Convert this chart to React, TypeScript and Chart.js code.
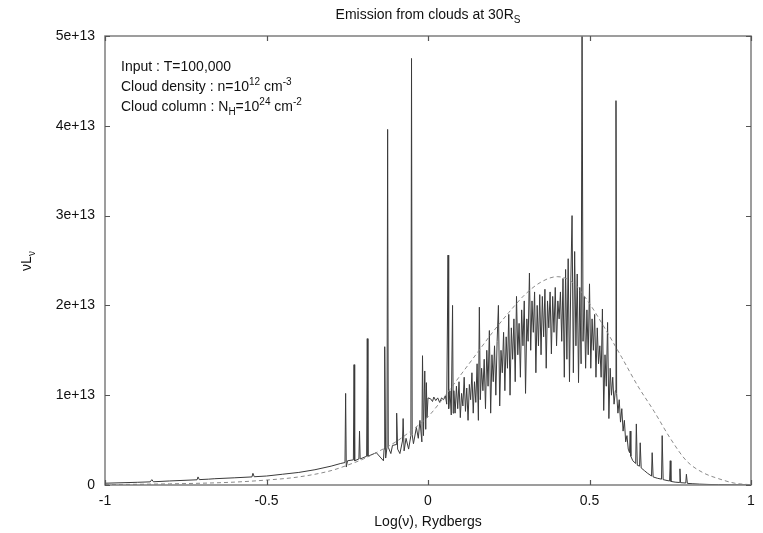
import React, { useEffect, useRef } from 'react';
import { Chart, registerables } from 'chart.js';

Chart.register(...registerables);

const FONT = '"Liberation Sans", Arial, Helvetica, sans-serif';

// Tick values
const xTickValues = [-1, -0.5, 0, 0.5, 1];
const yTickValues = [0, 1, 2, 3, 4, 5]; // units of 1e13

// Emission spectrum (solid) : x = log(nu) [Ryd], y = nuL_nu in 1e13
const solidX = [
  -1.0, -0.9, -0.86, -0.855, -0.85, -0.8, -0.715, -0.712, -0.708, -0.68, -0.66, -0.6,
  -0.545, -0.542, -0.538, -0.5, -0.45, -0.4, -0.35, -0.3, -0.27, -0.257, -0.255, -0.253,
  -0.249, -0.231, -0.229, -0.227, -0.214, -0.212, -0.21, -0.19, -0.188, -0.186, -0.16,
  -0.138, -0.136, -0.134, -0.131, -0.127, -0.125, -0.123, -0.115, -0.11, -0.099, -0.097,
  -0.094, -0.087, -0.079, -0.077, -0.074, -0.068, -0.06, -0.053, -0.051, -0.049, -0.045,
  -0.036, -0.03, -0.025, -0.019, -0.017, -0.014, -0.01, -0.007, -0.005, -0.003,
  0.0, 0.002, 0.008, 0.014, 0.018, 0.024, 0.03, 0.036, 0.042, 0.048, 0.054, 0.058,
  0.062, 0.064, 0.068, 0.072, 0.076, 0.078,
  0.08, 0.084, 0.088, 0.092, 0.096, 0.1, 0.104, 0.108, 0.112, 0.116, 0.12, 0.124, 0.128,
  0.132, 0.136, 0.14, 0.144, 0.148, 0.152, 0.156, 0.159, 0.162, 0.166, 0.17, 0.174, 0.178,
  0.182, 0.186, 0.19, 0.194, 0.198, 0.202, 0.206, 0.21, 0.214, 0.218, 0.222, 0.226, 0.23,
  0.234, 0.238, 0.242, 0.246, 0.25, 0.254, 0.258, 0.262, 0.266, 0.27, 0.274, 0.278, 0.282,
  0.286, 0.29, 0.294, 0.298, 0.302, 0.306, 0.31, 0.314, 0.318, 0.322, 0.326, 0.33, 0.334,
  0.338, 0.342, 0.346, 0.35, 0.354, 0.358, 0.362, 0.366, 0.37, 0.374, 0.378, 0.382, 0.386,
  0.39, 0.394, 0.398, 0.402, 0.406, 0.41, 0.414, 0.418, 0.422, 0.426, 0.43, 0.434, 0.438,
  0.442, 0.446, 0.45, 0.454, 0.458, 0.462, 0.466, 0.47, 0.474, 0.477, 0.48, 0.484, 0.488,
  0.492, 0.496, 0.5, 0.504, 0.508, 0.512, 0.516, 0.52, 0.524, 0.528, 0.532, 0.536, 0.54,
  0.544, 0.548, 0.552, 0.556, 0.56, 0.564, 0.568, 0.572, 0.576, 0.58, 0.582, 0.584, 0.588,
  0.592, 0.596, 0.6, 0.604, 0.608, 0.612, 0.616, 0.62, 0.624, 0.626, 0.628, 0.634, 0.643,
  0.645, 0.648, 0.655, 0.657, 0.66, 0.67, 0.68, 0.692, 0.694, 0.697, 0.71, 0.723, 0.725,
  0.728, 0.74, 0.748, 0.75, 0.752, 0.765, 0.778, 0.78, 0.782, 0.798, 0.8, 0.803, 0.82,
  0.84, 0.87, 0.9, 0.95, 1.0,
];
const solidY = [
  0.02, 0.03, 0.035, 0.06, 0.036, 0.045, 0.058, 0.09, 0.06, 0.065, 0.07, 0.08,
  0.09, 0.13, 0.092, 0.1, 0.12, 0.14, 0.17, 0.21, 0.24, 0.25, 1.02, 0.2,
  0.27, 0.28, 1.34, 0.27, 0.29, 0.6, 0.29, 0.32, 1.63, 0.32, 0.36,
  0.27, 0.4, 1.54, 0.3, 0.42, 3.96, 0.42, 0.35, 0.44, 0.45, 0.8,
  0.4, 0.35, 0.49, 0.74, 0.38, 0.52, 0.4, 0.55, 4.75, 0.56, 0.46,
  0.64, 0.52, 0.72, 0.48, 1.44, 0.55, 1.27, 0.62, 1.14, 0.75,
  0.97, 0.97, 0.96, 0.93, 0.98, 0.94, 0.97, 0.92, 0.97, 0.95, 0.99, 0.9,
  2.56, 0.85, 1.05, 0.78, 2.0, 0.8,
  1.05, 0.8, 1.1, 0.85, 1.15, 0.75, 1.02, 0.88, 1.2, 0.82, 1.08, 0.72, 1.12,
  0.95, 1.25, 0.8, 1.15, 0.92, 1.35, 0.72, 1.98, 0.95, 1.3, 1.05, 1.4, 0.85,
  1.5, 1.1, 1.72, 0.8, 1.45, 1.15, 1.55, 1.0, 1.6, 2.0, 0.88, 1.5, 1.25,
  1.7, 1.05, 1.65, 1.3, 1.9, 1.0, 1.75, 1.4, 1.85, 1.15, 2.1, 1.45, 1.8,
  1.2, 1.95, 1.55, 2.05, 1.02, 1.85, 1.6, 2.36, 1.5, 2.05, 1.7, 2.15, 1.25,
  2.0, 1.55, 2.12, 1.45, 2.1, 1.65, 2.18, 1.3, 2.05, 1.75, 2.15, 1.46, 2.1,
  1.7, 2.2, 1.55, 2.05, 1.85, 2.15, 1.6, 2.3, 1.2, 2.4, 1.4, 2.52, 1.15,
  2.25, 3.0, 1.25, 2.6, 1.55, 2.35, 1.14, 2.2, 1.35, 5.2, 1.6, 2.1, 1.3,
  1.95, 1.45, 2.24, 1.3, 1.85, 1.5, 1.9, 1.2, 1.75, 1.35, 1.55, 1.2, 1.96,
  0.83, 1.45, 1.1, 1.81, 0.74, 1.3, 1.0, 1.2, 0.9, 1.05, 4.28, 1.02, 0.8,
  0.95, 0.7, 0.85, 0.6, 0.72, 0.48, 0.55, 0.4, 0.36, 0.6, 0.32, 0.27, 0.24,
  0.68, 0.22, 0.21, 0.47, 0.19, 0.16, 0.13, 0.1, 0.36, 0.09, 0.075, 0.065, 0.55,
  0.06, 0.05, 0.045, 0.27, 0.04, 0.032, 0.028, 0.18, 0.026, 0.022, 0.12, 0.018, 0.014,
  0.01, 0.006, 0.004, 0.002, 0.0,
];

// Model continuum (dashed)
const dashX = [
  -1, -0.9, -0.8, -0.7, -0.6, -0.5, -0.4, -0.3, -0.25, -0.2, -0.15, -0.1, -0.05, 0,
  0.05, 0.1, 0.15, 0.2, 0.25, 0.3, 0.35, 0.4, 0.45, 0.5, 0.55, 0.6, 0.65, 0.7, 0.75,
  0.8, 0.85, 0.9, 0.95, 1.0,
];
const dashY = [
  0.005, 0.008, 0.013, 0.02, 0.032, 0.055, 0.09, 0.16, 0.22, 0.29, 0.38, 0.48, 0.61, 0.76,
  0.98, 1.22, 1.46, 1.7, 1.92, 2.12, 2.26, 2.32, 2.25, 2.02, 1.73, 1.42, 1.1, 0.82, 0.52,
  0.27, 0.14, 0.07, 0.02, 0.003,
];

type Part = { t: string; s?: 'sup' | 'sub' };

const titleParts: Part[] = [{ t: 'Emission from clouds at 30R' }, { t: 'S', s: 'sub' }];
const xLabelParts: Part[] = [{ t: 'Log(ν), Rydbergs' }];
const yLabelParts: Part[] = [{ t: 'νL' }, { t: 'ν', s: 'sub' }];
const noteLines: Part[][] = [
  [{ t: 'Input : T=100,000' }],
  [{ t: 'Cloud density : n=10' }, { t: '12', s: 'sup' }, { t: ' cm' }, { t: '-3', s: 'sup' }],
  [{ t: 'Cloud column : N' }, { t: 'H', s: 'sub' }, { t: '=10' }, { t: '24', s: 'sup' }, { t: ' cm' }, { t: '-2', s: 'sup' }],
];

function drawRich(ctx: CanvasRenderingContext2D, parts: Part[], x: number, y: number, size: number, align: 'left' | 'center') {
  const small = Math.round(size * 0.72);
  const widths = parts.map((p) => {
    ctx.font = `${p.s ? small : size}px ${FONT}`;
    return ctx.measureText(p.t).width;
  });
  const total = widths.reduce((a, b) => a + b, 0);
  let cx = align === 'center' ? x - total / 2 : x;
  ctx.textAlign = 'left';
  ctx.textBaseline = 'alphabetic';
  parts.forEach((p, i) => {
    ctx.font = `${p.s ? small : size}px ${FONT}`;
    const dy = p.s === 'sup' ? -size * 0.42 : p.s === 'sub' ? size * 0.3 : 0;
    ctx.fillText(p.t, cx, y + dy);
    cx += widths[i];
  });
}

const gnuplotFrame = {
  id: 'gnuplotFrame',
  afterDatasetsDraw(chart: any) {
    const { ctx, chartArea: a, scales } = chart;
    ctx.save();
    ctx.strokeStyle = '#7d7d7d';
    ctx.lineWidth = 1.5;
    ctx.strokeRect(a.left, a.top, a.right - a.left, a.bottom - a.top);
    ctx.lineWidth = 1.2;
    ctx.strokeStyle = '#555';
    const tl = 5;
    ctx.beginPath();
    xTickValues.forEach((v) => {
      const px = Math.round(scales.x.getPixelForValue(v)) + 0.5;
      ctx.moveTo(px, a.bottom);
      ctx.lineTo(px, a.bottom - tl);
      ctx.moveTo(px, a.top);
      ctx.lineTo(px, a.top + tl);
    });
    yTickValues.forEach((v) => {
      const py = Math.round(scales.y.getPixelForValue(v)) + 0.5;
      ctx.moveTo(a.left, py);
      ctx.lineTo(a.left + tl, py);
      ctx.moveTo(a.right, py);
      ctx.lineTo(a.right - tl, py);
    });
    ctx.stroke();

    ctx.fillStyle = '#111';
    const cxMid = (a.left + a.right) / 2;
    drawRich(ctx, titleParts, cxMid, 19, 14, 'center');
    drawRich(ctx, xLabelParts, cxMid, 526, 14, 'center');
    noteLines.forEach((line, i) => drawRich(ctx, line, 121, 71 + i * 20, 14, 'left'));

    ctx.save();
    ctx.translate(31, 261);
    ctx.rotate(-Math.PI / 2);
    drawRich(ctx, yLabelParts, 0, 0, 14, 'center');
    ctx.restore();

    ctx.restore();
  },
};

export default function App() {
  const ref = useRef<HTMLCanvasElement | null>(null);
  useEffect(() => {
    if (!ref.current) return;
    const chart = new Chart(ref.current, {
      type: 'scatter',
      data: {
        datasets: [
          {
            label: 'model',
            data: dashX.map((x, i) => ({ x, y: dashY[i] })),
            showLine: true,
            borderColor: '#8a8a8a',
            borderWidth: 1,
            borderDash: [4, 3],
            pointRadius: 0,
            cubicInterpolationMode: 'monotone',
          },
          {
            label: 'spectrum',
            data: solidX.map((x, i) => ({ x, y: solidY[i] })),
            showLine: true,
            borderColor: '#3a3a3a',
            borderWidth: 1,
            pointRadius: 0,
            tension: 0,
          },
        ],
      },
      options: {
        animation: false,
        responsive: true,
        maintainAspectRatio: false,
        layout: { padding: { left: 0, right: 12, top: 36, bottom: 0 } },
        plugins: { legend: { display: false }, title: { display: false }, tooltip: { enabled: false } },
        scales: {
          x: {
            type: 'linear',
            min: -1,
            max: 1,
            afterBuildTicks: (s: any) => {
              s.ticks = xTickValues.map((v) => ({ value: v }));
            },
            afterFit: (s: any) => {
              s.height = 48;
            },
            grid: { display: false, drawTicks: false },
            border: { display: false },
            ticks: {
              font: { family: FONT, size: 14 },
              color: '#111',
              padding: 8,
              maxRotation: 0,
              callback: (v: any) => String(v),
            },
          },
          y: {
            type: 'linear',
            min: 0,
            max: 5,
            afterBuildTicks: (s: any) => {
              s.ticks = yTickValues.map((v) => ({ value: v }));
            },
            afterFit: (s: any) => {
              s.width = 105;
            },
            grid: { display: false, drawTicks: false },
            border: { display: false },
            ticks: {
              font: { family: FONT, size: 14 },
              color: '#111',
              padding: 10,
              callback: (v: any) => (v === 0 ? '0' : `${v}e+13`),
            },
          },
        },
      },
      plugins: [gnuplotFrame],
    });
    return () => chart.destroy();
  }, []);
  return (
    <div style={{ position: 'fixed', left: 0, top: 0, width: 763, height: 533, background: '#fff' }}>
      <canvas ref={ref} />
    </div>
  );
}
